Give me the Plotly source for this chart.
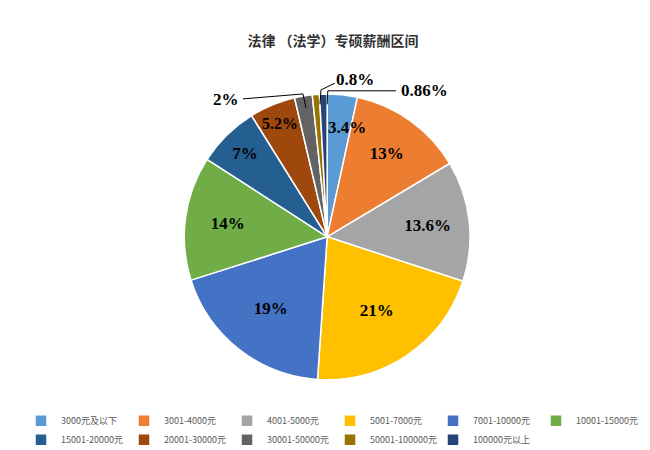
import plotly.graph_objects as go

categories = ["3000元及以下","3001-4000元","4001-5000元","5001-7000元","7001-10000元","10001-15000元",
              "15001-20000元","20001-30000元","30001-50000元","50001-100000元","100000元以上"]
values = [3.4, 13, 13.6, 21, 19, 14, 7, 5.2, 2, 0.8, 0.86]
labels = ["3.4%","13%","13.6%","21%","19%","14%","7%","5.2%","2%","0.8%","0.86%"]
colors = ["#5B9BD5","#ED7D31","#A5A5A5","#FFC000","#4472C4","#70AD47",
          "#255E91","#9E480E","#636363","#997300","#264478"]
inside = [False, True, True, True, True, True, True, True, False, False, False]

fig = go.Figure(go.Pie(
    labels=categories, values=values,
    text=["<b>%s</b>" % t if ok else "" for t, ok in zip(labels, inside)],
    textinfo="text", textposition="inside", sort=False, direction="clockwise", rotation=0,
    marker=dict(colors=colors, line=dict(color="white", width=1.5)),
    textfont=dict(family="Liberation Serif", size=17, color="black"),
    insidetextorientation="horizontal", hoverinfo="label+percent",
    domain=dict(x=[0.191, 0.791], y=[0.174, 0.809]),
))
lab_font = dict(family="Liberation Serif", size=17, color="black")
# labels for the narrow slices, placed as in the original
for i, (x, y) in [(0, (0.522, 0.735)), (8, (0.336, 0.796)), (9, (0.534, 0.842)), (10, (0.64, 0.816))]:
    fig.add_annotation(text="<b>%s</b>" % labels[i], x=x, y=y, xref="paper", yref="paper",
                       xanchor="center", yanchor="middle", showarrow=False, font=lab_font)
# leader lines
for p in ["M 0.3615 0.798 L 0.4538 0.809 L 0.4585 0.778",
          "M 0.503 0.833 L 0.4815 0.818 L 0.48 0.786",
          "M 0.597 0.816 L 0.492 0.816 L 0.491 0.786"]:
    fig.add_shape(type="path", xref="paper", yref="paper", path=p, line=dict(color="black", width=1))
fig.update_layout(
    width=650, height=450, paper_bgcolor="white",
    margin=dict(l=0, r=0, t=0, b=0),
    title=dict(text="<b>法律 （法学）专硕薪酬区间</b>", x=0.5, y=0.927, xanchor="center", yanchor="middle",
               font=dict(family="Noto Sans CJK SC", size=14, color="#333")),
    legend=dict(orientation="h", x=0.02, y=0.115, xanchor="left", yanchor="top",
                entrywidth=58, font=dict(family="Noto Sans CJK SC", size=9, color="#595959"),
                itemwidth=30, tracegroupgap=0),
)
fig.write_html("out.html")
